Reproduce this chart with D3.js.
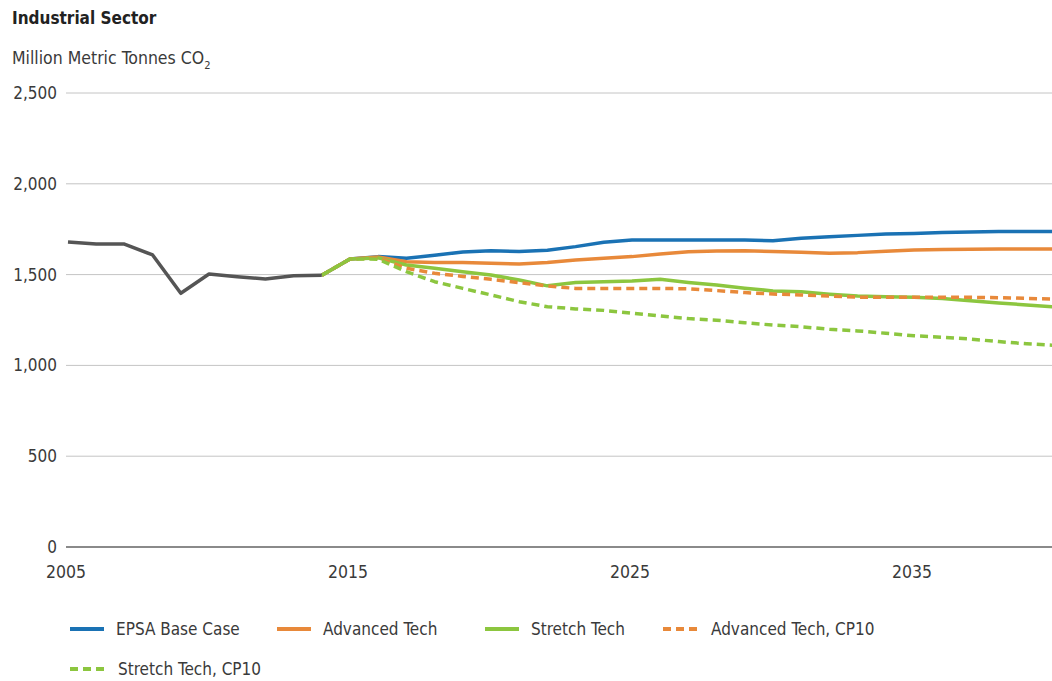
<!DOCTYPE html>
<html>
<head>
<meta charset="utf-8">
<script src="https://cdn.jsdelivr.net/npm/d3@7"></script>
<style>
    body { margin: 0; background: #fff; }
    svg { display: block; }
    text { font-family: "DejaVu Sans Condensed", "DejaVu Sans", sans-serif; fill: #3a3a3a; }
</style>
</head>
<body>
<div id="chart"></div>
<script>
    // historical emissions 2005-2014
    var histYears = [2005, 2006, 2007, 2008, 2009, 2010, 2011, 2012, 2013, 2014];
    var histValues = [1680, 1668, 1668, 1608, 1397, 1503, 1488, 1476, 1494, 1496];

    // projections 2014-2040
    var projYears = d3.range(2014, 2041);
    var baseCase = [1496, 1586, 1599, 1590, 1606, 1625, 1632, 1627, 1634, 1654, 1678, 1690, 1691, 1691, 1690, 1690, 1686, 1700, 1709, 1716, 1723, 1727, 1732, 1735, 1737, 1738, 1738];
    var advancedTech = [1496, 1586, 1597, 1571, 1566, 1566, 1562, 1558, 1566, 1580, 1590, 1599, 1613, 1626, 1630, 1632, 1627, 1623, 1617, 1621, 1629, 1635, 1638, 1640, 1641, 1641, 1641];
    var stretchTech = [1496, 1586, 1592, 1553, 1535, 1516, 1498, 1470, 1438, 1456, 1461, 1465, 1474, 1457, 1443, 1425, 1410, 1405, 1392, 1382, 1378, 1375, 1369, 1356, 1343, 1333, 1322];
    var advancedCP10 = [1496, 1586, 1592, 1535, 1507, 1490, 1474, 1456, 1437, 1424, 1424, 1424, 1424, 1422, 1412, 1401, 1393, 1388, 1382, 1376, 1375, 1375, 1375, 1375, 1373, 1369, 1365];
    var stretchCP10 = [1496, 1586, 1585, 1516, 1461, 1424, 1388, 1351, 1323, 1311, 1303, 1287, 1272, 1258, 1249, 1235, 1222, 1213, 1199, 1190, 1177, 1163, 1155, 1145, 1131, 1119, 1110];

    var yTicks = [0, 500, 1000, 1500, 2000, 2500];
    var xTicks = [2005, 2015, 2025, 2035];

    var seriesNames = ['EPSA Base Case', 'Advanced Tech', 'Stretch Tech', 'Advanced Tech, CP10', 'Stretch Tech, CP10'];
    var seriesColors = ['#1a72b4', '#e8893a', '#8cc63f', '#e8893a', '#8cc63f'];
    var seriesDashed = [false, false, false, true, true];

    var width = 1052, height = 681;

    var svg = d3.select('#chart').append('svg')
        .attr('width', width)
        .attr('height', height);

    var x = d3.scaleLinear().domain([2005, 2040]).range([68, 1055]);
    var y = d3.scaleLinear().domain([0, 2500]).range([547, 93]);

    // gridlines
    svg.append('g')
        .selectAll('line')
        .data(yTicks)
        .enter()
        .append('line')
        .attr('x1', 66)
        .attr('x2', width)
        .attr('y1', function (d) { return y(d); })
        .attr('y2', function (d) { return y(d); })
        .attr('stroke', function (d) { return d === 0 ? '#8a8a8a' : '#c4c4c4'; })
        .attr('stroke-width', function (d) { return d === 0 ? 2 : 1; });

    // y labels
    svg.append('g')
        .selectAll('text')
        .data(yTicks)
        .enter()
        .append('text')
        .attr('x', 57)
        .attr('y', function (d) { return y(d) + 6; })
        .attr('text-anchor', 'end')
        .style('font-size', '17px')
        .text(function (d) { return d3.format(',')(d); });

    // x labels
    svg.append('g')
        .selectAll('text')
        .data(xTicks)
        .enter()
        .append('text')
        .attr('x', function (d) { return x(d) - 2; })
        .attr('y', 578)
        .attr('text-anchor', 'middle')
        .style('font-size', '17.5px')
        .text(function (d) { return d; });

    // titles
    svg.append('text')
        .attr('x', 12)
        .attr('y', 24)
        .style('font-size', '17px')
        .style('font-weight', 'bold')
        .style('fill', '#222')
        .text('Industrial Sector');

    var sub = svg.append('text')
        .attr('x', 12)
        .attr('y', 64)
        .style('font-size', '17.5px');
    sub.append('tspan').text('Million Metric Tonnes CO');
    sub.append('tspan').attr('dy', 5).style('font-size', '11px').text('2');

    var line = d3.line()
        .x(function (d) { return x(d[0]); })
        .y(function (d) { return y(d[1]); });

    var projSeries = [baseCase, advancedTech, stretchTech, advancedCP10, stretchCP10];

    // draw order: blue, orange, green solid, orange dashed, green dashed
    projSeries.forEach(function (values, i) {
        svg.append('path')
            .datum(d3.zip(projYears, values))
            .attr('d', line)
            .attr('fill', 'none')
            .attr('stroke', seriesColors[i])
            .attr('stroke-width', 3.5)
            .attr('stroke-linejoin', 'round')
            .attr('stroke-dasharray', seriesDashed[i] ? '8,5' : null);
    });

    svg.append('path')
        .datum(d3.zip(histYears, histValues))
        .attr('d', line)
        .attr('fill', 'none')
        .attr('stroke', '#555')
        .attr('stroke-width', 3.5)
        .attr('stroke-linejoin', 'round');

    // legend
    var legendPos = [[70, 629], [277, 629], [485, 629], [663, 629], [70, 669]];

    var legend = svg.append('g')
        .selectAll('g')
        .data(seriesNames)
        .enter()
        .append('g')
        .attr('transform', function (d, i) { return 'translate(' + legendPos[i][0] + ',' + legendPos[i][1] + ')'; });

    legend.append('line')
        .attr('x1', 0)
        .attr('x2', 34)
        .attr('y1', 0)
        .attr('y2', 0)
        .attr('stroke', function (d, i) { return seriesColors[i]; })
        .attr('stroke-width', 4)
        .attr('stroke-dasharray', function (d, i) { return seriesDashed[i] ? '8,5' : null; });

    legend.append('text')
        .attr('x', function (d, i) { return seriesDashed[i] ? 48 : 46; })
        .attr('y', 6)
        .style('font-size', '17px')
        .text(function (d) { return d; });
</script>
</body>
</html>
